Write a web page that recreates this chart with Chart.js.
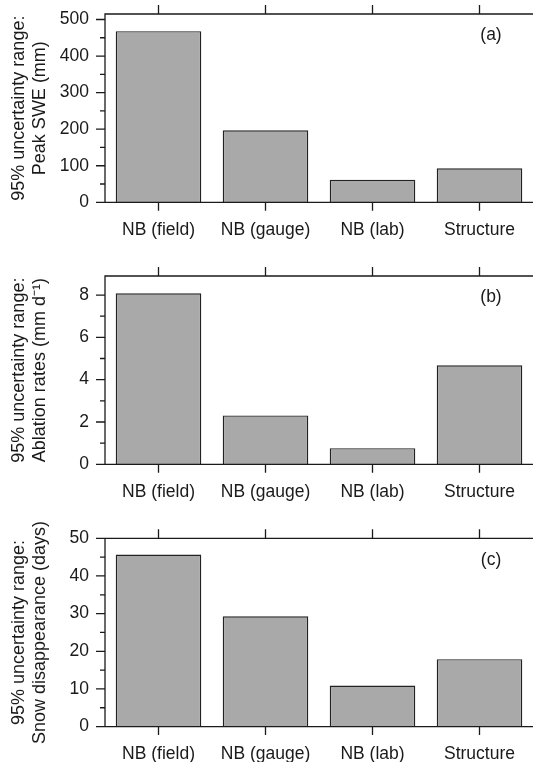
<!DOCTYPE html>
<html><head><meta charset="utf-8">
<script src="https://cdn.jsdelivr.net/npm/chart.js@4"></script>
<style>
html,body{margin:0;padding:0;background:#fff;width:533px;height:762px;overflow:hidden}
canvas{position:absolute;left:0}
</style></head><body>
<canvas id="ca" width="533" height="262" style="top:0px"></canvas>
<canvas id="cb" width="533" height="262" style="top:262px"></canvas>
<canvas id="cc" width="533" height="252" style="top:510px"></canvas>
<script>
const categories = ['NB (field)', 'NB (gauge)', 'NB (lab)', 'Structure'];
const peakSWE = [468, 197, 62, 93];
const ablationRates = [8.08, 2.31, 0.76, 4.68];
const snowDisappearance = [45.7, 29.3, 10.9, 17.9];
const ticksA = [0, 100, 200, 300, 400, 500];
const minorA = [50, 150, 250, 350, 450];
const ticksB = [0, 2, 4, 6, 8];
const minorB = [1, 3, 5, 7];
const ticksC = [0, 10, 20, 30, 40, 50];
const minorC = [5, 15, 25, 35, 45];
const titleA = ['95% uncertainty range:', 'Peak SWE (mm)'];
const titleB = ['95% uncertainty range:', 'Ablation rates (mm d\u207B\u00B9)'];
const titleC = ['95% uncertainty range:', 'Snow disappearance (days)'];
const panelLabels = ['(a)', '(b)', '(c)'];

const FONT = "'Liberation Sans', Arial, Helvetica, sans-serif";
const FS = 17.5;
const INK = '#1a1a1a';
const PLOT_H = 188.3;

const framePlugin = {
  id: 'frame',
  afterDatasetsDraw(chart, args, opts) {
    const ctx = chart.ctx, ca = chart.chartArea;
    const xs = chart.scales.x, ys = chart.scales.y;
    const W = chart.width;
    ctx.save();
    ctx.strokeStyle = INK;
    ctx.lineWidth = 1.3;
    ctx.lineCap = 'butt';
    ctx.beginPath();
    ctx.moveTo(ca.left, ca.top); ctx.lineTo(ca.left, ca.bottom);
    ctx.moveTo(ca.left - 0.65, ca.top); ctx.lineTo(W, ca.top);
    ctx.moveTo(ca.left, ca.bottom); ctx.lineTo(W, ca.bottom);
    opts.major.forEach(v => { const p = ys.getPixelForValue(v); ctx.moveTo(ca.left - 9, p); ctx.lineTo(ca.left, p); });
    opts.minor.forEach(v => { const p = ys.getPixelForValue(v); ctx.moveTo(ca.left - 5, p); ctx.lineTo(ca.left, p); });
    categories.forEach((c, i) => {
      const p = xs.getPixelForValue(i);
      ctx.moveTo(p, ca.bottom); ctx.lineTo(p, ca.bottom + 8.5);
      ctx.moveTo(p, ca.top); ctx.lineTo(p, ca.top - 9);
    });
    ctx.stroke();
    ctx.fillStyle = INK;
    ctx.font = FS + 'px ' + FONT;
    ctx.textAlign = 'center';
    ctx.textBaseline = 'middle';
    ctx.fillText(opts.label, ca.right - 42, ca.top + 21.5);
    ctx.restore();
  }
};

function makeChart(id, H, top, values, max, major, minor, title, label) {
  return new Chart(document.getElementById(id), {
    type: 'bar',
    data: {
      labels: categories,
      datasets: [{
        data: values,
        backgroundColor: '#a9a9a9',
        borderColor: '#222222',
        borderWidth: 1.4,
        borderSkipped: 'bottom',
        categoryPercentage: 1.0,
        barPercentage: 0.8
      }]
    },
    options: {
      responsive: false,
      animation: false,
      devicePixelRatio: 1,
      layout: { padding: { top: top, left: 0, right: 0, bottom: 0 } },
      plugins: {
        legend: { display: false },
        tooltip: { enabled: false },
        frame: { major: major, minor: minor, label: label }
      },
      scales: {
        x: {
          type: 'category',
          offset: true,
          grid: { display: false, drawTicks: false },
          border: { display: false },
          ticks: {
            color: INK, font: { family: FONT, size: FS }, padding: 17,
            autoSkip: false, maxRotation: 0, minRotation: 0
          },
          afterFit: s => { s.height = H - top - PLOT_H; s.paddingLeft = 0; s.paddingRight = 0; }
        },
        y: {
          type: 'linear',
          min: 0, max: max,
          grid: { display: false, drawTicks: false },
          border: { display: false },
          afterBuildTicks: s => { s.ticks = major.map(v => ({ value: v })); },
          ticks: {
            color: INK, font: { family: FONT, size: FS }, padding: 16,
            callback: v => String(v)
          },
          title: {
            display: true, text: title, color: INK,
            font: { family: FONT, size: 18, lineHeight: 1.15 },
            padding: { top: 9, bottom: 0 }
          },
          afterFit: s => { s.width = 105; s.paddingTop = 0; s.paddingBottom = 0; }
        }
      }
    },
    plugins: [framePlugin]
  });
}

makeChart('ca', 262, 14, peakSWE, 515, ticksA, minorA, titleA, panelLabels[0]);
makeChart('cb', 262, 14, ablationRates, 8.9, ticksB, minorB, titleB, panelLabels[1]);
makeChart('cc', 252, 28.3, snowDisappearance, 50, ticksC, minorC, titleC, panelLabels[2]);
</script>
</body></html>
